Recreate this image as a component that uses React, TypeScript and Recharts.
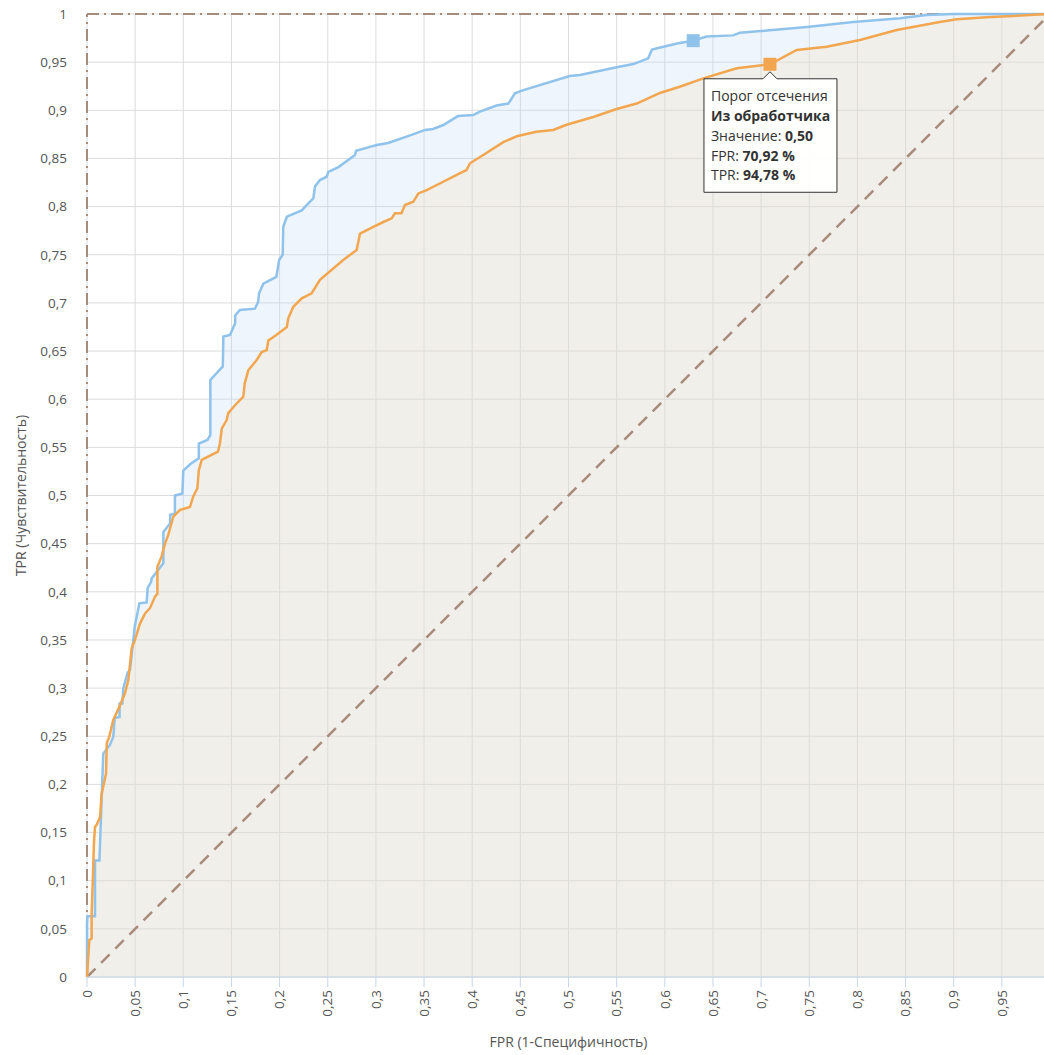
import React from 'react'
import {
  ComposedChart,
  Area,
  Line,
  XAxis,
  YAxis,
  CartesianGrid,
  ReferenceLine,
  ReferenceDot,
} from 'recharts'

// ROC curves: FPR on x, TPR on y
const blueFpr = [
  0, 0, 0.0005, 0.0083, 0.0083, 0.0129, 0.0169, 0.0238, 0.0273, 0.0288, 0.0338, 0.0338, 0.0367,
  0.0377, 0.0422, 0.0447, 0.0496, 0.0544, 0.0619, 0.063, 0.0665, 0.0672, 0.0793, 0.0793, 0.0862,
  0.0864, 0.0913, 0.0913, 0.099, 0.1, 0.1077, 0.1161, 0.1161, 0.125, 0.1281, 0.1281, 0.141,
  0.1416, 0.1485, 0.1539, 0.1539, 0.1588, 0.1744, 0.1777, 0.1787, 0.1831, 0.1966, 0.1995, 0.2032,
  0.2038, 0.2075, 0.223, 0.2313, 0.235, 0.2368, 0.2419, 0.2489, 0.2506, 0.2611, 0.2783, 0.2794,
  0.2938, 0.3008, 0.3127, 0.3355, 0.351, 0.3594, 0.37, 0.3852, 0.4011, 0.408, 0.4254, 0.4375,
  0.4444, 0.4531, 0.5013, 0.5119, 0.55, 0.5673, 0.5827, 0.5867, 0.5986, 0.614, 0.6295, 0.6433,
  0.6711, 0.678, 0.7088, 0.7475, 0.7958, 0.8442, 0.8716, 0.8994, 1,
]
const blueTpr = [
  0, 0.056, 0.063, 0.063, 0.121, 0.121, 0.232, 0.241, 0.2495, 0.269, 0.27, 0.284, 0.284, 0.3,
  0.316, 0.319, 0.364, 0.388, 0.389, 0.404, 0.41, 0.414, 0.4295, 0.462, 0.471, 0.48, 0.481, 0.5,
  0.502, 0.526, 0.533, 0.5386, 0.554, 0.5576, 0.563, 0.62, 0.634, 0.665, 0.6667, 0.679, 0.687,
  0.6926, 0.694, 0.701, 0.71, 0.72, 0.727, 0.7446, 0.75, 0.779, 0.7895, 0.796, 0.805, 0.8086,
  0.821, 0.8276, 0.831, 0.836, 0.841, 0.8536, 0.858, 0.862, 0.864, 0.866, 0.874, 0.8796, 0.8806,
  0.8847, 0.894, 0.895, 0.8986, 0.905, 0.907, 0.9176, 0.921, 0.9356, 0.9367, 0.9447, 0.948,
  0.954, 0.963, 0.966, 0.9696, 0.9723, 0.9766, 0.9778, 0.9806, 0.983, 0.9865, 0.9917, 0.9955,
  0.999, 1, 1,
]

const orangeFpr = [
  0, 0.0024, 0.0048, 0.0048, 0.006, 0.0072, 0.0083, 0.01, 0.0135, 0.0152, 0.0198, 0.0205, 0.0231,
  0.0273, 0.0338, 0.0394, 0.0429, 0.0464, 0.0498, 0.055, 0.0603, 0.0654, 0.0706, 0.0731, 0.0731,
  0.0774, 0.081, 0.0844, 0.0896, 0.0966, 0.1069, 0.1102, 0.1146, 0.1161, 0.1191, 0.136, 0.138,
  0.14, 0.1449, 0.1467, 0.1539, 0.1623, 0.1638, 0.1675, 0.1762, 0.1814, 0.1866, 0.1883, 0.1966,
  0.2075, 0.209, 0.2142, 0.223, 0.2333, 0.2419, 0.2661, 0.28, 0.2835, 0.2973, 0.3077, 0.3164,
  0.3197, 0.3266, 0.3302, 0.3388, 0.3441, 0.3527, 0.3663, 0.3839, 0.3941, 0.3977, 0.4115, 0.4323,
  0.4462, 0.4666, 0.4841, 0.498, 0.5257, 0.55, 0.5708, 0.595, 0.6155, 0.64, 0.6747, 0.7092, 0.737,
  0.7681, 0.8027, 0.8408, 0.8855, 0.9031, 0.9342, 1,
]
const orangeTpr = [
  0, 0.0384, 0.04, 0.066, 0.1, 0.139, 0.156, 0.158, 0.166, 0.19, 0.2115, 0.2427, 0.2495, 0.267,
  0.281, 0.2946, 0.3084, 0.3413, 0.35, 0.367, 0.3776, 0.383, 0.395, 0.398, 0.426, 0.4365, 0.45,
  0.459, 0.478, 0.485, 0.488, 0.4988, 0.5075, 0.526, 0.537, 0.5455, 0.554, 0.5697, 0.578,
  0.5855, 0.594, 0.6026, 0.6165, 0.63, 0.6407, 0.649, 0.651, 0.661, 0.6667, 0.675, 0.684, 0.696,
  0.7047, 0.71, 0.724, 0.7446, 0.755, 0.772, 0.779, 0.784, 0.7878, 0.793, 0.793, 0.8017, 0.805,
  0.8137, 0.817, 0.824, 0.833, 0.838, 0.845, 0.8536, 0.867, 0.873, 0.8778, 0.8796, 0.885, 0.893,
  0.9013, 0.907, 0.918, 0.9245, 0.9332, 0.9436, 0.9478, 0.9626, 0.966, 0.973, 0.9834, 0.9917,
  0.9945, 0.9965, 1,
]

const xTicks = [
  0, 0.05, 0.1, 0.15, 0.2, 0.25, 0.3, 0.35, 0.4, 0.45, 0.5, 0.55, 0.6, 0.65, 0.7, 0.75, 0.8,
  0.85, 0.9, 0.95,
]
const yTicks = [
  0, 0.05, 0.1, 0.15, 0.2, 0.25, 0.3, 0.35, 0.4, 0.45, 0.5, 0.55, 0.6, 0.65, 0.7, 0.75, 0.8,
  0.85, 0.9, 0.95, 1,
]

// cutoff point shown in the tooltip
const bluePoint = { fpr: 0.6295, tpr: 0.9723 }
const cutoffPoint = { fpr: 0.7092, tpr: 0.9478 }
const tooltipTitle = 'Порог отсечения'
const tooltipSource = 'Из обработчика'
const tooltipValue = '0,50'

const BLUE = '#90c3ec'
const ORANGE = '#f2a650'
const BROWN = '#a78b7b'
const FONT = '"Open Sans", "Segoe UI", sans-serif'

const fmt = (v: number) => String(v).replace('.', ',')
const pct = (v: number) => (v * 100).toFixed(2).replace('.', ',') + ' %'

const rows = [
  ...blueFpr.map((fpr, i) => ({ fpr, blue: blueTpr[i] })),
  ...orangeFpr.map((fpr, i) => ({ fpr, orange: orangeTpr[i] })),
].sort((a, b) => a.fpr - b.fpr)

function XTick({ x, y, payload }: any) {
  return (
    <text
      x={x}
      y={y}
      transform={`rotate(-90, ${x}, ${y})`}
      textAnchor="end"
      dy="0.35em"
      fill="#555"
      fontSize={13.5}
      fontFamily={FONT}
    >
      {fmt(payload.value)}
    </text>
  )
}

function Square({ cx, cy, color }: any) {
  return <rect x={cx - 6.5} y={cy - 6.5} width={13} height={13} fill={color} />
}

function CutoffTip({ cx, cy }: any) {
  const l = cx - 66
  const r = cx + 67
  const t = cy + 14.5
  const b = cy + 128
  const box = `M${l},${t} L${cx - 7},${t} L${cx},${cy + 7.5} L${cx + 7},${t} L${r},${t} L${r},${b} L${l},${b} Z`
  const tx = cx - 59
  const lines = [
    [tooltipTitle, ''],
    ['', tooltipSource],
    ['Значение: ', tooltipValue],
    ['FPR: ', pct(cutoffPoint.fpr)],
    ['TPR: ', pct(cutoffPoint.tpr)],
  ]
  return (
    <g>
      <Square cx={cx} cy={cy} color={ORANGE} />
      <path d={box} fill="#fff" fillOpacity={0.95} stroke="#333" strokeWidth={1} />
      {lines.map(([a, bold], i) => (
        <text key={i} x={tx} y={cy + 37 + i * 19.8} fontSize={14} fontFamily={FONT} fill="#333">
          {a}
          {bold && <tspan fontWeight="bold">{bold}</tspan>}
        </text>
      ))}
    </g>
  )
}

export default function App() {
  return (
    <div
      style={{
        position: 'absolute',
        left: 0,
        top: 0,
        width: 1044,
        height: 1055,
        overflow: 'hidden',
        background: '#fff',
      }}
    >
      <ComposedChart
        width={1051}
        height={1055}
        data={rows}
        margin={{ top: 14, right: 1, bottom: 0, left: 0 }}
      >
        <CartesianGrid stroke="#dcdcdc" strokeWidth={1} />
        <Area
          type="linear"
          dataKey="blue"
          stroke="none"
          fill="#bbd7f3"
          fillOpacity={0.25}
          connectNulls
          isAnimationActive={false}
        />
        <Area
          type="linear"
          dataKey="orange"
          stroke="none"
          fill="#f8e1c0"
          fillOpacity={0.3}
          connectNulls
          isAnimationActive={false}
        />
        <XAxis
          dataKey="fpr"
          type="number"
          domain={[0, 1]}
          ticks={xTicks}
          interval={0}
          height={78}
          axisLine={{ stroke: '#c6d6ea' }}
          tickLine={{ stroke: '#c6d6ea' }}
          tickSize={10}
          tickMargin={3}
          tick={<XTick />}
          label={{
            value: 'FPR (1-Специфичность)',
            position: 'insideBottom',
            offset: 8,
            fill: '#555',
            fontSize: 14,
            fontFamily: FONT,
          }}
        />
        <YAxis
          type="number"
          domain={[0, 1]}
          ticks={yTicks}
          interval={0}
          width={87}
          axisLine={false}
          tickLine={false}
          tickSize={0}
          tickMargin={20}
          tickFormatter={fmt}
          tick={{ fill: '#555', fontSize: 13.5, fontFamily: FONT }}
          label={{
            value: 'TPR (Чувствительность)',
            angle: -90,
            position: 'insideLeft',
            offset: 21,
            fill: '#555',
            fontSize: 14,
            fontFamily: FONT,
            style: { textAnchor: 'middle' },
          }}
        />
        <ReferenceLine
          segment={[
            { x: 0, y: 0 },
            { x: 1, y: 1 },
          ]}
          stroke={BROWN}
          strokeWidth={2.5}
          strokeDasharray="12 8"
        />
        <ReferenceLine y={1} stroke={BROWN} strokeWidth={2} strokeDasharray="12 5 2 5" />
        <ReferenceLine x={0} stroke={BROWN} strokeWidth={2} strokeDasharray="12 5 2 5" />
        <Line
          type="linear"
          dataKey="blue"
          stroke={BLUE}
          strokeWidth={2.5}
          dot={false}
          connectNulls
          isAnimationActive={false}
        />
        <Line
          type="linear"
          dataKey="orange"
          stroke={ORANGE}
          strokeWidth={2.5}
          dot={false}
          connectNulls
          isAnimationActive={false}
        />
        <ReferenceDot
          x={bluePoint.fpr}
          y={bluePoint.tpr}
          shape={(p: any) => <Square cx={p.cx} cy={p.cy} color={BLUE} />}
        />
        <ReferenceDot
          x={cutoffPoint.fpr}
          y={cutoffPoint.tpr}
          shape={(p: any) => <CutoffTip cx={p.cx} cy={p.cy} />}
        />
      </ComposedChart>
    </div>
  )
}
